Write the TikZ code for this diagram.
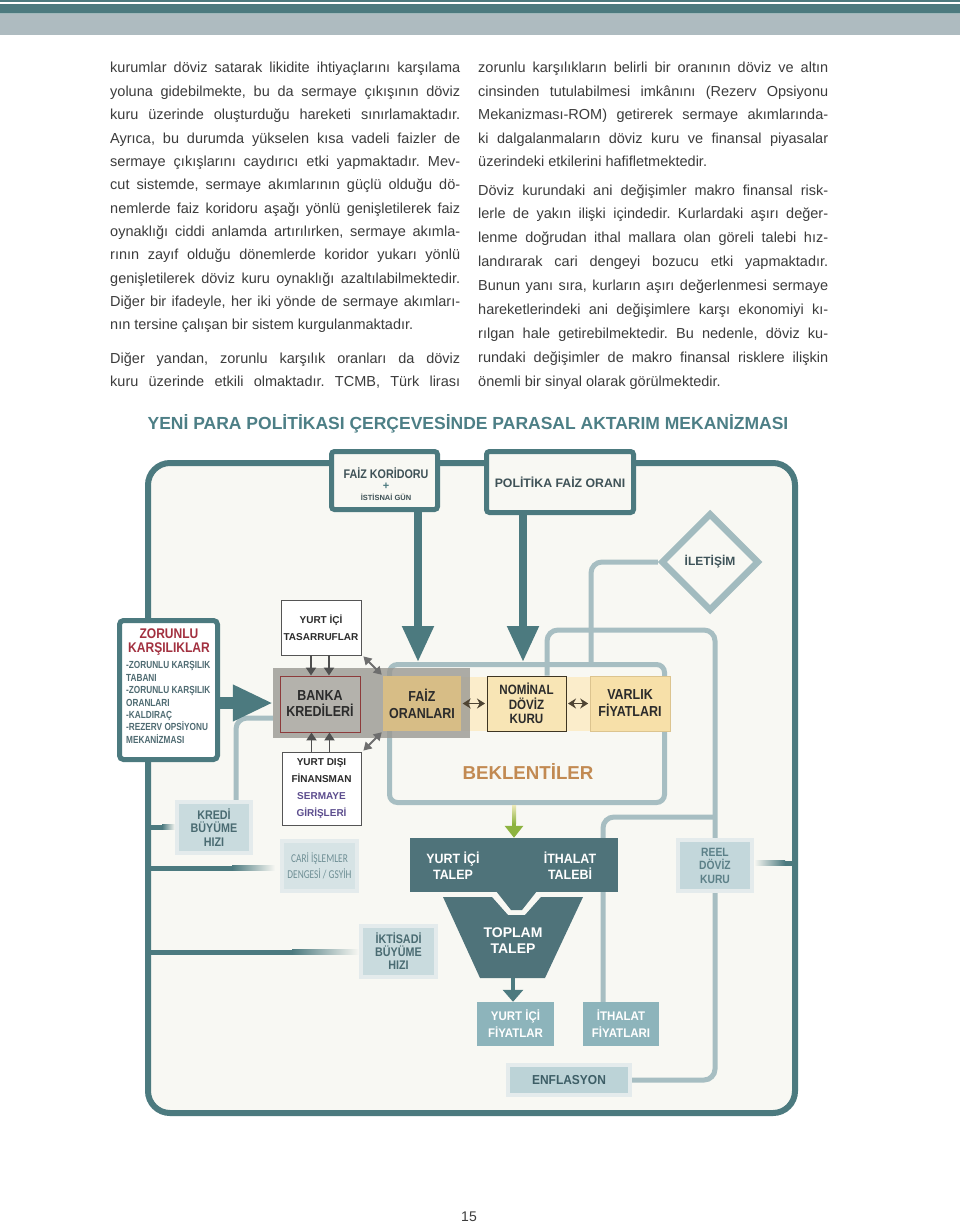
\documentclass[tikz,border=0pt]{standalone}
\usepackage{fontspec}
\setmainfont{Liberation Sans}
\newfontfamily\bodyf{Liberation Sans}
\newfontfamily\lbf{Liberation Sans}
\newfontfamily\cnd[FakeStretch=0.86]{Liberation Sans}
\newfontfamily\cndd[FakeStretch=0.8]{Liberation Sans}
\newfontfamily\cndb[FakeStretch=0.92]{Liberation Sans}
\newfontfamily\carl[FakeStretch=0.78]{Carlito}
\usetikzlibrary{arrows.meta,shapes.geometric,calc}
\pgfdeclarelayer{bg}
\pgfsetlayers{bg,main}
\frenchspacing
\definecolor{tealA}{HTML}{4C7A7F}
\definecolor{bannerG}{HTML}{AEBBC0}
\definecolor{bannerL}{HTML}{9FB8BA}
\definecolor{bgc}{HTML}{F8F8F3}
\definecolor{txtc}{HTML}{3C3C3C}
\definecolor{ttl}{HTML}{4D7F86}
\definecolor{lightln}{HTML}{A7BEC2}
\definecolor{diamc}{HTML}{A2BBBF}
\definecolor{zred}{HTML}{A2303F}
\definecolor{zlist}{HTML}{4F6B72}
\definecolor{toptxt}{HTML}{3F5257}
\definecolor{darktxt}{HTML}{2B2B2B}
\definecolor{boxbord}{HTML}{555555}
\definecolor{purp}{HTML}{5C4D8E}
\definecolor{bandc}{HTML}{FBEDCB}
\definecolor{faizc}{HTML}{D7BD86}
\definecolor{nomc}{HTML}{F8E5B5}
\definecolor{nombord}{HTML}{3E3522}
\definecolor{varlc}{HTML}{F7E0A9}
\definecolor{varlbord}{HTML}{DCC48F}
\definecolor{ovlc}{HTML}{9A9892}
\definecolor{bankac}{HTML}{B4B2AC}
\definecolor{bankab}{HTML}{8D3B3B}
\definecolor{brownar}{HTML}{4E4433}
\definecolor{greyar}{HTML}{4F4F4F}
\definecolor{greyar2}{HTML}{6E6E6E}
\definecolor{bekc}{HTML}{C28A52}
\definecolor{demc}{HTML}{4F737A}
\definecolor{pricec}{HTML}{8DB4BB}
\definecolor{haloc}{HTML}{E4EBEC}
\definecolor{palec}{HTML}{C9DBDE}
\definecolor{carifill}{HTML}{D6E3E5}
\definecolor{reelc}{HTML}{C3D7DB}
\definecolor{enfc}{HTML}{BCD3D7}
\definecolor{pbtxt}{HTML}{4A6B72}
\definecolor{reeltxt}{HTML}{5C8088}
\definecolor{enftxt}{HTML}{3D5E66}
\definecolor{caritxt}{HTML}{6F8F95}
\definecolor{ilettxt}{HTML}{3E5359}
\definecolor{yelg}{HTML}{EDE9B8}
\definecolor{grnc}{HTML}{8DB340}
\newcommand\bodyJ[4]{\node[bodytext] (#1) at (#2,#3) {\makebox[350pt][s]{#4}};}
\newcommand\bodyL[4]{\node[bodytext] (#1) at (#2,#3) {#4};}
\begin{document}
\begin{tikzpicture}[x=1pt,y=-1pt,
  bodytext/.style={anchor=base west, inner sep=0pt, font=\bodyf\fontsize{14.5}{17}\selectfont, text=txtc},
  topbox/.style={draw=tealA, line width=5pt, fill=bgc, rounded corners=3pt, inner sep=0pt, align=center, text=toptxt},
  lt/.style={draw=lightln, line width=5pt, rounded corners=11pt},
  plain/.style={inner sep=0pt, align=center},
  whbox/.style={draw=boxbord, line width=0.8pt, fill=white, inner sep=0pt, align=center, text=darktxt, font=\lbf\bfseries\fontsize{10}{16.7}\selectfont},
  palebox/.style={fill=#1, draw=haloc, line width=4pt, inner sep=0pt, align=center},
  pricebox/.style={fill=pricec, inner sep=0pt, align=center, text=white, font=\cndb\bfseries\fontsize{12.5}{17}\selectfont},
  midbox/.style={inner sep=0pt, align=center, text=darktxt, minimum width=79pt, minimum height=55pt},
  brarrow/.style={brownar, line width=1.8pt, {Stealth[width=10pt,length=8pt]}-{Stealth[width=10pt,length=8pt]}, shorten <=1.5pt, shorten >=1.5pt}
]
\useasboundingbox (0,0) rectangle (960,1225);
\begin{pgfonlayer}{bg}
\fill[white] (0,0) rectangle (960,1225);
\end{pgfonlayer}
% banner
\fill[tealA] (0,0) rectangle (960,1.8);
\fill[tealA] (0,4) rectangle (960,13);
\fill[bannerL] (0,13) rectangle (960,14.5);
\fill[bannerG] (0,14.5) rectangle (960,35);
% left column
\bodyJ{l1}{110}{73}{kurumlar döviz satarak likidite ihtiyaçlarını karşılama}
\bodyJ{l2}{110}{96.4}{yoluna gidebilmekte, bu da sermaye çıkışının döviz}
\bodyJ{l3}{110}{119.7}{kuru üzerinde oluşturduğu hareketi sınırlamaktadır.}
\bodyJ{l4}{110}{143.1}{Ayrıca, bu durumda yükselen kısa vadeli faizler de}
\bodyJ{l5}{110}{166.4}{sermaye çıkışlarını caydırıcı etki yapmaktadır. Mev-}
\bodyJ{l6}{110}{189.8}{cut sistemde, sermaye akımlarının güçlü olduğu dö-}
\bodyJ{l7}{110}{213.1}{nemlerde faiz koridoru aşağı yönlü genişletilerek faiz}
\bodyJ{l8}{110}{236.5}{oynaklığı ciddi anlamda artırılırken, sermaye akımla-}
\bodyJ{l9}{110}{259.8}{rının zayıf olduğu dönemlerde koridor yukarı yönlü}
\bodyJ{l10}{110}{283.2}{genişletilerek döviz kuru oynaklığı azaltılabilmektedir.}
\bodyJ{l11}{110}{306.5}{Diğer bir ifadeyle, her iki yönde de sermaye akımları-}
\bodyL{l12}{110}{329.9}{nın tersine çalışan bir sistem kurgulanmaktadır.}
\bodyJ{l13}{110}{363}{Diğer yandan, zorunlu karşılık oranları da döviz}
\bodyJ{l14}{110}{386}{kuru üzerinde etkili olmaktadır. TCMB, Türk lirası}
% right column
\bodyJ{r1}{478}{73}{zorunlu karşılıkların belirli bir oranının döviz ve altın}
\bodyJ{r2}{478}{96.5}{cinsinden tutulabilmesi imkânını (Rezerv Opsiyonu}
\bodyJ{r3}{478}{120}{Mekanizması-ROM) getirerek sermaye akımlarında-}
\bodyJ{r4}{478}{143.5}{ki dalgalanmaların döviz kuru ve finansal piyasalar}
\bodyL{r5}{478}{167}{üzerindeki etkilerini hafifletmektedir.}
\bodyJ{r6}{478}{195}{Döviz kurundaki ani değişimler makro finansal risk-}
\bodyJ{r7}{478}{218.9}{lerle de yakın ilişki içindedir. Kurlardaki aşırı değer-}
\bodyJ{r8}{478}{242.8}{lenme doğrudan ithal mallara olan göreli talebi hız-}
\bodyJ{r9}{478}{266.7}{landırarak cari dengeyi bozucu etki yapmaktadır.}
\bodyJ{r10}{478}{290.6}{Bunun yanı sıra, kurların aşırı değerlenmesi sermaye}
\bodyJ{r11}{478}{314.5}{hareketlerindeki ani değişimlere karşı ekonomiyi kı-}
\bodyJ{r12}{478}{338.4}{rılgan hale getirebilmektedir. Bu nedenle, döviz ku-}
\bodyJ{r13}{478}{362.3}{rundaki değişimler de makro finansal risklere ilişkin}
\bodyL{r14}{478}{386.2}{önemli bir sinyal olarak görülmektedir.}
% title
\node[inner sep=0pt, font=\lbf\bfseries\fontsize{17.5}{20}\selectfont, text=ttl] (title) at (468,424) {YENİ PARA POLİTİKASI ÇERÇEVESİNDE PARASAL AKTARIM MEKANİZMASI};
% frame
\begin{pgfonlayer}{bg}
\draw[tealA, line width=6pt, fill=bgc, rounded corners=22pt] (148,463) rectangle (795,1113);
\end{pgfonlayer}
% top boxes
\node[topbox, minimum width=106pt, minimum height=58pt] (fk) at (384.5,480.5) {};
\node[plain, text=toptxt, font=\cnd\bfseries\fontsize{12.5}{12.5}\selectfont] (fk1) at (386,473) {FAİZ KORİDORU};
\node[plain, text=tealA, font=\lbf\bfseries\fontsize{11}{11}\selectfont] (fk2) at (386,486) {+};
\node[plain, text=toptxt, font=\lbf\bfseries\fontsize{7.5}{8}\selectfont] (fk3) at (386,497) {İSTİSNAİ GÜN};
\node[topbox, minimum width=147pt, minimum height=61pt, font=\lbf\bfseries\fontsize{12.3}{13}\selectfont] (pf) at (560,482) {POLİTİKA FAİZ ORANI};
% diamond
\node[draw=diamc, line width=6.5pt, fill=bgc, shape=diamond, minimum width=98pt, minimum height=98pt, inner sep=0pt, text=ilettxt, font=\lbf\bfseries\fontsize{12}{12}\selectfont] (ilet) at (710,562) {İLETİŞİM};
% zorunlu
\node[draw=tealA, line width=5pt, fill=white, rounded corners=4pt, minimum width=98pt, minimum height=139pt, inner sep=0pt] (zor) at (168.5,690) {};
\node[plain, text=zred, font=\cnd\bfseries\fontsize{14}{14}\selectfont] (zort) at (169,642) {ZORUNLU\\KARŞILIKLAR};
\node[anchor=north west, inner sep=0pt, align=left, text=zlist, font=\cndd\bfseries\fontsize{10.3}{12.4}\selectfont] (zorl) at (126,661.5) {-ZORUNLU KARŞILIK\\TABANI\\-ZORUNLU KARŞILIK\\ORANLARI\\-KALDIRAÇ\\-REZERV OPSİYONU\\MEKANİZMASI};
% beklentiler frame
\node[draw=lightln, line width=5pt, rounded corners=8pt, minimum width=275pt, minimum height=138pt, inner sep=0pt] (bek) at (527,733.5) {};
\node[plain, text=bekc, font=\lbf\bfseries\fontsize{18.7}{19}\selectfont] (bekt) at (528,771) {BEKLENTİLER};
% band and boxes
\node[fill=bandc, minimum width=287pt, minimum height=54pt, inner sep=0pt] (band) at (526.5,703.5) {};
\node[midbox, fill=nomc, draw=nombord, line width=1pt, font=\cnd\bfseries\fontsize{13.5}{14.5}\selectfont] (nom) at (526.5,703.5) {NOMİNAL\\DÖVİZ\\KURU};
\node[midbox, fill=varlc, draw=varlbord, line width=0.6pt, minimum width=80pt, font=\cnd\bfseries\fontsize{14.5}{17}\selectfont] (varl) at (630,703.5) {VARLIK\\FİYATLARI};
\node[fill=ovlc, fill opacity=0.8, minimum width=197pt, minimum height=70pt, inner sep=0pt] (ovl) at (371.5,703) {};
\node[midbox, fill=faizc, minimum width=78pt, font=\cnd\bfseries\fontsize{14.5}{17}\selectfont] (faiz) at (422,703.5) {FAİZ\\ORANLARI};
\node[midbox, fill=bankac, draw=bankab, line width=0.9pt, minimum width=80pt, minimum height=56pt, font=\cnd\bfseries\fontsize{14.5}{16}\selectfont] (banka) at (320,704) {BANKA\\KREDİLERİ};
% white boxes
\node[whbox, minimum width=80pt, minimum height=55pt, font=\lbf\bfseries\fontsize{10}{17}\selectfont] (yic) at (321,627.5) {YURT İÇİ\\TASARRUFLAR};
\node[whbox, minimum width=79pt, minimum height=73pt] (ydis) at (321.5,788.5) {YURT DIŞI\\FİNANSMAN\\\textcolor{purp}{SERMAYE}\\\textcolor{purp}{GİRİŞLERİ}};
% pale boxes
\node[palebox=palec, minimum width=74pt, minimum height=51pt, text=pbtxt, font=\cnd\bfseries\fontsize{12.5}{13.5}\selectfont] (kredi) at (214,827.5) {KREDİ\\BÜYÜME\\HIZI};
\node[palebox=carifill, minimum width=75pt, minimum height=50pt, text=caritxt, font=\carl\fontsize{12}{16}\selectfont] (cari) at (319.5,866) {CARİ İŞLEMLER\\DENGESİ / GSYİH};
\node[palebox=palec, minimum width=75pt, minimum height=51pt, text=pbtxt, font=\cnd\bfseries\fontsize{12.5}{13}\selectfont] (iktis) at (398.5,951.5) {İKTİSADİ\\BÜYÜME\\HIZI};
\node[palebox=reelc, minimum width=74pt, minimum height=51pt, text=reeltxt, font=\cnd\bfseries\fontsize{12}{13.5}\selectfont] (reel) at (715,865.5) {REEL\\DÖVİZ\\KURU};
\node[palebox=enfc, minimum width=122pt, minimum height=30pt, text=enftxt, font=\cndb\bfseries\fontsize{13}{14}\selectfont] (enf) at (569,1080) {ENFLASYON};
% demand
\node[fill=demc, minimum width=208pt, minimum height=54pt, inner sep=0pt] (dem) at (514,865) {};
\fill[demc] (496,891) -- (511,910) -- (522,910) -- (537,891) -- cycle;
\node[plain, text=white, font=\cndb\bfseries\fontsize{13.5}{16}\selectfont] (dem1) at (453,866) {YURT İÇİ\\TALEP};
\node[plain, text=white, font=\cndb\bfseries\fontsize{13.5}{16}\selectfont] (dem2) at (570,866) {İTHALAT\\TALEBİ};
\fill[demc] (443,897) -- (492,897) -- (508,915) -- (525,915) -- (541,897) -- (583,897) -- (545,978) -- (480,978) -- cycle;
\coordinate (fbot) at (513,978);
\node[plain, text=white, font=\lbf\bfseries\fontsize{14}{16}\selectfont] (toplam) at (513,941) {TOPLAM\\TALEP};
% prices
\node[pricebox, minimum width=77pt, minimum height=44pt] (yif) at (515.5,1024) {YURT İÇİ\\FİYATLAR};
\node[pricebox, minimum width=76pt, minimum height=44pt] (ithf) at (621,1024) {İTHALAT\\FİYATLARI};
% light connectors
\begin{pgfonlayer}{bg}
\draw[lt] ([yshift=-15pt]ovl.west) -| ([xshift=22pt]kredi.north);
\draw[lt] (ilet.west) -| ([xshift=64pt]bek.north);
\draw[lt] (547,0 |- nom.north) |- (reel.north |- 0,630) -- (reel.north);
\draw[lt] (reel.north |- 0,817) -| (603,0 |- ithf.north);
\draw[lt] (reel.south) |- (enf.east);
\end{pgfonlayer}
% teal arrows from top boxes
\draw[tealA, line width=8pt, -{Triangle[width=30pt,length=36pt]}] (418,0 |- fk.south) -- (418,0 |- bek.north);
\draw[tealA, line width=8pt, -{Triangle[width=30pt,length=36pt]}] (523,0 |- pf.south) -- (523,0 |- bek.north);
% zorunlu arrow
\draw[tealA, line width=12pt, -{Triangle[width=34pt,length=40pt]}] (zor.east |- ovl.west) -- (ovl.west);
% small arrows
\draw[greyar, line width=1.8pt, -{Triangle[width=10pt,length=8pt]}] ([xshift=-10pt]yic.south) -- ([xshift=-10pt]yic.south |- banka.north);
\draw[greyar, line width=1.8pt, -{Triangle[width=10pt,length=8pt]}] ([xshift=8pt]yic.south) -- ([xshift=8pt]yic.south |- banka.north);
\draw[greyar, line width=1.8pt, -{Triangle[width=10pt,length=8pt]}] ([xshift=-10pt]ydis.north) -- ([xshift=-10pt]ydis.north |- banka.south);
\draw[greyar, line width=1.8pt, -{Triangle[width=10pt,length=8pt]}] ([xshift=8pt]ydis.north) -- ([xshift=8pt]ydis.north |- banka.south);
\draw[greyar2, line width=2pt, {Triangle[width=9pt,length=8pt]}-{Triangle[width=9pt,length=8pt]}] ([shift={(2pt,-1pt)}]yic.south east) -- ([shift={(-1pt,1pt)}]faiz.north west);
\draw[greyar2, line width=2pt, {Triangle[width=9pt,length=8pt]}-{Triangle[width=9pt,length=8pt]}] ([shift={(2pt,1pt)}]ydis.north east) -- ([shift={(-1pt,-1pt)}]faiz.south west);
\draw[brarrow] (faiz.east) -- (nom.west);
\draw[brarrow] (nom.east) -- (varl.west);
% green arrow
\draw[grnc, line width=4pt, -{Triangle[width=18pt,length=12pt]}] (dem.north |- bek.south) -- (dem.north);
\shade[top color=yelg, bottom color=grnc] ([xshift=-2pt]dem.north |- bek.south) rectangle ([xshift=2pt,yshift=14pt]dem.north);
% funnel arrow
\draw[tealA, line width=3.5pt, -{Triangle[width=20pt,length=12pt]}] (fbot) -- (fbot |- yif.north);
% teal gradient lines from frame
\fill[tealA] (148,824.5) rectangle (162,829.5);
\shade[left color=tealA, right color=bgc] (162,824.5) rectangle (kredi.west |- 0,829.5);
\fill[tealA] (148,865.5) rectangle (232,870.5);
\shade[left color=tealA, right color=bgc] (232,865.5) rectangle ([xshift=-5pt]cari.west |- 0,870.5);
\fill[tealA] (148,949.5) rectangle (292,954.5);
\shade[left color=tealA, right color=bgc] (292,949.5) rectangle (iktis.west |- 0,954.5);
\shade[left color=bgc, right color=tealA] (reel.east |- 0,860.5) rectangle (785,865.5);
\fill[tealA] (785,860.5) rectangle (795,865.5);
% page number
\node[inner sep=0pt, font=\bodyf\fontsize{14}{14}\selectfont, text=txtc] (pnum) at (469,1217) {15};
\end{tikzpicture}
\end{document}
